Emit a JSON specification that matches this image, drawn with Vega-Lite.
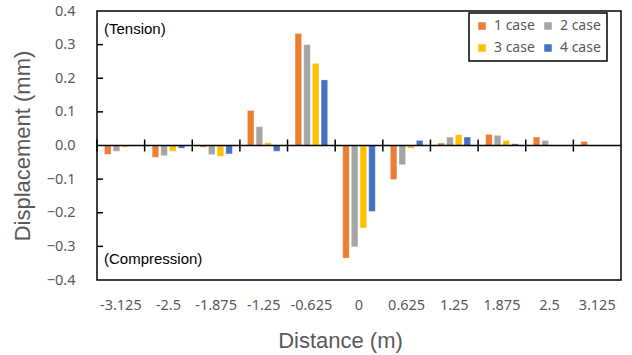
{
  "$schema": "https://vega.github.io/schema/vega-lite/v6.json",
  "width": 524,
  "height": 269,
  "autosize": "none",
  "padding": {"left": 97, "top": 11, "right": 11, "bottom": 75},
  "background": "white",
  "config": {
    "view": {"stroke": "black", "strokeWidth": 1.5},
    "legend": {"strokeWidth": 1.5}
  },
  "datasets": {
    "disp": [
      {"distance": "-3.125", "case": "1 case", "value": -0.026},
      {"distance": "-3.125", "case": "2 case", "value": -0.017},
      {"distance": "-3.125", "case": "3 case", "value": -0.005},
      {"distance": "-3.125", "case": "4 case", "value": 0},
      {"distance": "-2.5", "case": "1 case", "value": -0.035},
      {"distance": "-2.5", "case": "2 case", "value": -0.030},
      {"distance": "-2.5", "case": "3 case", "value": -0.017},
      {"distance": "-2.5", "case": "4 case", "value": -0.008},
      {"distance": "-1.875", "case": "1 case", "value": -0.005},
      {"distance": "-1.875", "case": "2 case", "value": -0.027},
      {"distance": "-1.875", "case": "3 case", "value": -0.032},
      {"distance": "-1.875", "case": "4 case", "value": -0.025},
      {"distance": "-1.25", "case": "1 case", "value": 0.104},
      {"distance": "-1.25", "case": "2 case", "value": 0.056},
      {"distance": "-1.25", "case": "3 case", "value": 0.008},
      {"distance": "-1.25", "case": "4 case", "value": -0.017},
      {"distance": "-0.625", "case": "1 case", "value": 0.333},
      {"distance": "-0.625", "case": "2 case", "value": 0.300},
      {"distance": "-0.625", "case": "3 case", "value": 0.244},
      {"distance": "-0.625", "case": "4 case", "value": 0.195},
      {"distance": "0", "case": "1 case", "value": -0.335},
      {"distance": "0", "case": "2 case", "value": -0.301},
      {"distance": "0", "case": "3 case", "value": -0.245},
      {"distance": "0", "case": "4 case", "value": -0.196},
      {"distance": "0.625", "case": "1 case", "value": -0.101},
      {"distance": "0.625", "case": "2 case", "value": -0.057},
      {"distance": "0.625", "case": "3 case", "value": -0.008},
      {"distance": "0.625", "case": "4 case", "value": 0.015},
      {"distance": "1.25", "case": "1 case", "value": 0.007},
      {"distance": "1.25", "case": "2 case", "value": 0.025},
      {"distance": "1.25", "case": "3 case", "value": 0.032},
      {"distance": "1.25", "case": "4 case", "value": 0.025},
      {"distance": "1.875", "case": "1 case", "value": 0.033},
      {"distance": "1.875", "case": "2 case", "value": 0.030},
      {"distance": "1.875", "case": "3 case", "value": 0.015},
      {"distance": "1.875", "case": "4 case", "value": 0.005},
      {"distance": "2.5", "case": "1 case", "value": 0.025},
      {"distance": "2.5", "case": "2 case", "value": 0.015},
      {"distance": "2.5", "case": "3 case", "value": 0},
      {"distance": "2.5", "case": "4 case", "value": 0},
      {"distance": "3.125", "case": "1 case", "value": 0.012},
      {"distance": "3.125", "case": "2 case", "value": 0},
      {"distance": "3.125", "case": "3 case", "value": 0},
      {"distance": "3.125", "case": "4 case", "value": 0}
    ],
    "notes": [
      {"label": "(Tension)", "distance": "-3.125", "value": 0.346},
      {"label": "(Compression)", "distance": "-3.125", "value": -0.337}
    ],
    "bounds": [
      {"distance": "-3.125", "value": 0},
      {"distance": "-2.5", "value": 0},
      {"distance": "-1.875", "value": 0},
      {"distance": "-1.25", "value": 0},
      {"distance": "-0.625", "value": 0},
      {"distance": "0", "value": 0},
      {"distance": "0.625", "value": 0},
      {"distance": "1.25", "value": 0},
      {"distance": "1.875", "value": 0},
      {"distance": "2.5", "value": 0},
      {"distance": "3.125", "value": 0}
    ],
    "yticks": [
      {"distance": "-3.125", "value": 0.3},
      {"distance": "-3.125", "value": 0.2},
      {"distance": "-3.125", "value": 0.1},
      {"distance": "-3.125", "value": -0.1},
      {"distance": "-3.125", "value": -0.2},
      {"distance": "-3.125", "value": -0.3}
    ]
  },
  "encoding": {
    "x": {
      "field": "distance",
      "type": "nominal",
      "scale": {
        "domain": ["-3.125", "-2.5", "-1.875", "-1.25", "-0.625", "0", "0.625", "1.25", "1.875", "2.5", "3.125"],
        "paddingInner": 0,
        "paddingOuter": 0
      },
      "axis": {
        "title": "Distance (m)",
        "titleFont": "Liberation Sans",
        "titleFontSize": 22,
        "titleFontWeight": "normal",
        "titleColor": "#595959",
        "titlePadding": 19,
        "titleX": 243,
        "labelFont": "Noto Sans",
        "labelFontSize": 14.5,
        "labelColor": "#595959",
        "labelAngle": 0,
        "labelPadding": 18,
        "labelOverlap": false,
        "ticks": false,
        "domain": false
      }
    },
    "y": {
      "field": "value",
      "type": "quantitative",
      "scale": {"domain": [-0.4, 0.4], "nice": false, "zero": false},
      "axis": {
        "title": "Displacement (mm)",
        "titleFont": "Liberation Sans",
        "titleFontSize": 22,
        "titleFontWeight": "normal",
        "titleColor": "#595959",
        "titlePadding": 12,
        "values": [-0.4, -0.3, -0.2, -0.1, 0, 0.1, 0.2, 0.3, 0.4],
        "format": ".1f",
        "labelFont": "Noto Sans",
        "labelFontSize": 14.5,
        "labelColor": "#595959",
        "labelPadding": 22,
        "labelOverlap": false,
        "ticks": false,
        "grid": false,
        "domain": false
      }
    }
  },
  "layer": [
    {
      "data": {"name": "disp"},
      "mark": {"type": "bar", "stroke": "white", "strokeOpacity": 0.5, "strokeWidth": 0.5},
      "encoding": {
        "xOffset": {
          "field": "case",
          "type": "nominal",
          "scale": {"paddingInner": 0.25, "paddingOuter": 0.87}
        },
        "color": {
          "field": "case",
          "type": "nominal",
          "scale": {
            "domain": ["1 case", "2 case", "3 case", "4 case"],
            "range": ["#ED7D31", "#A5A5A5", "#FFC000", "#4472C4"]
          },
          "legend": {
            "title": null,
            "orient": "none",
            "legendX": 372,
            "legendY": 2,
            "columns": 2,
            "direction": "horizontal",
            "symbolType": "square",
            "symbolSize": 56,
            "symbolStrokeWidth": 0,
            "labelFont": "Noto Sans",
            "labelFontSize": 14,
            "labelColor": "#595959",
            "labelOffset": 5,
            "columnPadding": 6,
            "rowPadding": 8,
            "padding": 6,
            "strokeColor": "black",
            "fillColor": "white"
          }
        }
      }
    },
    {
      "data": {"name": "bounds"},
      "mark": {"type": "tick", "orient": "horizontal", "color": "black", "size": 48, "thickness": 1.5, "opacity": 1}
    },
    {
      "data": {"name": "bounds"},
      "mark": {"type": "tick", "orient": "vertical", "color": "black", "size": 12, "thickness": 1.5, "opacity": 1},
      "encoding": {
        "x": {
          "field": "distance",
          "type": "nominal",
          "bandPosition": 0,
          "scale": {
            "domain": ["-3.125", "-2.5", "-1.875", "-1.25", "-0.625", "0", "0.625", "1.25", "1.875", "2.5", "3.125"],
            "paddingInner": 0,
            "paddingOuter": 0
          },
          "axis": {
            "title": "Distance (m)",
            "titleFont": "Liberation Sans",
            "titleFontSize": 22,
            "titleFontWeight": "normal",
            "titleColor": "#595959",
            "titlePadding": 19,
            "titleX": 243,
            "labelFont": "Noto Sans",
            "labelFontSize": 14.5,
            "labelColor": "#595959",
            "labelAngle": 0,
            "labelPadding": 18,
            "labelOverlap": false,
            "ticks": false,
            "domain": false
          }
        }
      }
    },
    {
      "data": {"name": "yticks"},
      "mark": {"type": "tick", "orient": "horizontal", "color": "black", "size": 6, "thickness": 1.5, "xOffset": -20.8, "opacity": 1}
    },
    {
      "data": {"name": "notes"},
      "mark": {"type": "text", "align": "left", "baseline": "middle", "dx": 7, "font": "Liberation Sans", "fontSize": 15, "color": "black"},
      "encoding": {
        "x": {
          "field": "distance",
          "type": "nominal",
          "bandPosition": 0,
          "scale": {
            "domain": ["-3.125", "-2.5", "-1.875", "-1.25", "-0.625", "0", "0.625", "1.25", "1.875", "2.5", "3.125"],
            "paddingInner": 0,
            "paddingOuter": 0
          },
          "axis": {
            "title": "Distance (m)",
            "titleFont": "Liberation Sans",
            "titleFontSize": 22,
            "titleFontWeight": "normal",
            "titleColor": "#595959",
            "titlePadding": 19,
            "titleX": 243,
            "labelFont": "Noto Sans",
            "labelFontSize": 14.5,
            "labelColor": "#595959",
            "labelAngle": 0,
            "labelPadding": 18,
            "labelOverlap": false,
            "ticks": false,
            "domain": false
          }
        },
        "text": {"field": "label", "type": "nominal"}
      }
    }
  ]
}
